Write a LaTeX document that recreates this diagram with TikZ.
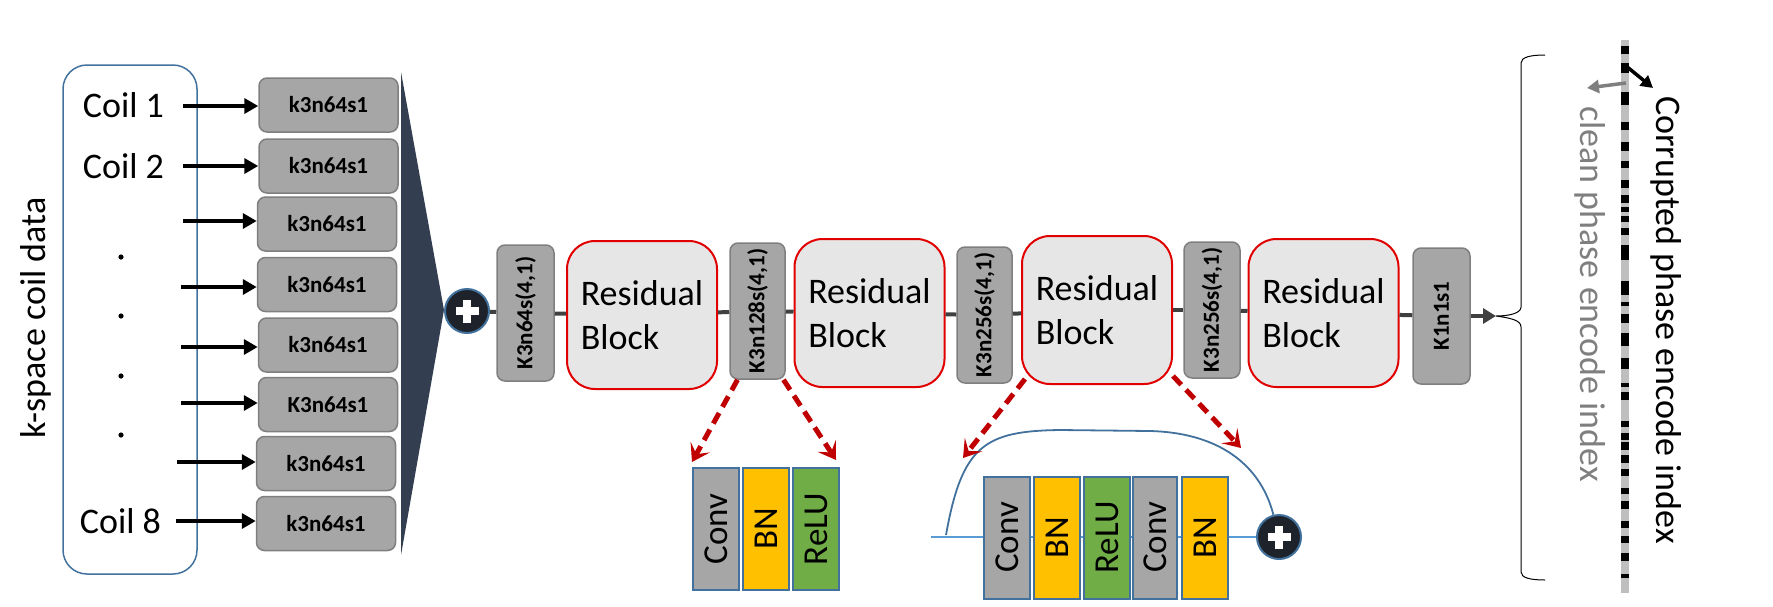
\documentclass[tikz,border=0pt]{standalone}
\usepackage{fontspec}
\setmainfont{Carlito}
\usepackage{graphicx}
\usetikzlibrary{arrows.meta}
\definecolor{coilblue}{HTML}{41719C}
\definecolor{skipblue}{HTML}{5B9BD5}
\definecolor{kgray}{HTML}{A6A6A6}
\definecolor{kborder}{HTML}{7F7F7F}
\definecolor{navy}{HTML}{333F50}
\definecolor{resfill}{HTML}{E7E6E6}
\definecolor{resred}{HTML}{E00000}
\definecolor{darkred}{HTML}{C00000}
\definecolor{bnyellow}{HTML}{FFC000}
\definecolor{relugreen}{HTML}{70AD47}
\definecolor{linegray}{HTML}{404040}
\definecolor{bargray}{HTML}{BFBFBF}
\definecolor{textgray}{HTML}{7F7F7F}
\definecolor{plusfill}{HTML}{1D222B}
\begin{document}
\begin{tikzpicture}[x=1pt,y=-1pt,
  coilbox/.style={draw=coilblue, line width=1.5pt, rounded corners=24pt, minimum width=134pt, minimum height=509pt, inner sep=0pt},
  coiltext/.style={font=\fontsize{36}{40}\selectfont, inner sep=0pt},
  kbox/.style={fill=kgray, draw=kborder, line width=1.5pt, rounded corners=8pt, inner sep=0pt, font=\bfseries\fontsize{23}{26}\selectfont},
  rowbox/.style={kbox, minimum width=139pt, minimum height=54pt},
  vbox/.style={kbox, minimum width=56pt, minimum height=136pt},
  resbox/.style={fill=resfill, draw=resred, line width=2pt, rounded corners=28pt, minimum width=150pt, minimum height=148pt, align=left, inner sep=0pt, font=\fontsize{36}{44}\selectfont},
  feed/.style={line width=4.5pt, -{Triangle[length=14pt,width=15pt]}},
  mainline/.style={draw=linegray, line width=4pt},
  plusc/.style={circle, fill=plusfill, draw=coilblue, line width=2pt, minimum size=44pt, inner sep=0pt},
  plusbar/.style={white, line width=7.5pt},
  layer/.style={draw=coilblue, line width=2pt, minimum width=46pt, minimum height=122pt, inner sep=0pt, font=\fontsize{35}{40}\selectfont},
  redarrow/.style={draw=darkred, line width=5pt, dash pattern=on 12pt off 7pt, -{Stealth[length=17pt,width=22pt,inset=8pt]}},
]
\path[use as bounding box] (0,0) rectangle (1773,606);

% ---- coil data ----
\node[coilbox] (coils) at (130,319.5) {};
\node[coiltext] (coil1) at (123.5,105) {Coil 1};
\node[coiltext] (coil2) at (123.5,166) {Coil 2};
\node[coiltext] (coil8) at (120.5,521) {Coil 8};
\foreach \y in {257,316,376,435} \fill (121,\y) circle (2.6pt);
\node[coiltext, rotate=90] (kspace) at (35.5,318) {k-space coil data};

% ---- per-coil conv boxes ----
\node[rowbox] (r1) at (328.5,105) {k3n64s1};
\node[rowbox] (r2) at (328.5,166) {k3n64s1};
\node[rowbox] (r3) at (327,224) {k3n64s1};
\node[rowbox] (r4) at (327,284.5) {k3n64s1};
\node[rowbox] (r5) at (328,345) {k3n64s1};
\node[rowbox] (r6) at (328,404.5) {K3n64s1};
\node[rowbox] (r7) at (326,463.5) {k3n64s1};
\node[rowbox] (r8) at (326,523.5) {k3n64s1};

\coordinate (a1) at (183,106);
\coordinate (a2) at (183,166);
\coordinate (a3) at (183,221);
\coordinate (a4) at (181,287);
\coordinate (a5) at (181,347);
\coordinate (a6) at (181,403);
\coordinate (a7) at (177,462);
\coordinate (a8) at (176,521);
\foreach \i in {1,...,8} \draw[feed] (a\i) -- (a\i -| r\i.west);

% ---- merge wedge ----
\fill[navy] (401,72) -- (444,310) -- (401,555) -- cycle;

% ---- main pipeline ----
\node[plusc] (p1) at (467,311) {};
\node[vbox, minimum width=57pt] (c0) at (525.5,313) {\rotatebox{90}{K3n64s(4,1)}};
\node[resbox] (res1) at (642,315) {Residual\\Block};
\node[vbox, minimum width=55pt] (c1) at (757.5,311) {\rotatebox{90}{K3n128s(4,1)}};
\node[resbox] (res2) at (869.5,313) {Residual\\Block};
\node[vbox, minimum width=55pt] (c2) at (984.5,315) {\rotatebox{90}{K3n256s(4,1)}};
\node[resbox] (res3) at (1097,310) {Residual\\Block};
\node[vbox] (c3) at (1212,310) {\rotatebox{90}{K3n256s(4,1)}};
\node[resbox] (res4) at (1323.5,313) {Residual\\Block};
\node[vbox, minimum width=57pt] (k1n) at (1441.5,316) {\rotatebox{90}{K1n1s1}};

\draw[mainline] (p1) -- (c0);
\draw[mainline] (c0) -- (res1);
\draw[mainline] (res1) -- (c1);
\draw[mainline] (c1) -- (res2);
\draw[mainline] (res2) -- (c2);
\draw[mainline] (c2) -- (res3);
\draw[mainline] (res3) -- (c3);
\draw[mainline] (c3) -- (res4);
\draw[mainline] (res4) -- (k1n);
\coordinate (btip) at (1496,316);
\draw[mainline, -{Triangle[length=13pt,width=15pt]}] (k1n) -- (btip);

% ---- brace ----
\draw[line width=1pt] (1545,55) .. controls (1531,55) and (1521,57) .. (1521,63) -- (1521,307)
  .. controls (1521,313) and (1510,316) .. (btip)
  .. controls (1510,318) and (1521,320) .. (1521,327) -- (1521,572)
  .. controls (1521,578) and (1531,580) .. (1545,580);

% ---- phase encode bar ----
\fill[bargray] (1621,40) rectangle (1629,593);
\foreach \a/\b in {46/54,63/73,92/105,122/130,142/151,161/168,180/188,195/203,207/212,216/222,228/235,245/260,281/295,302/306,314/323,333/346,358/369,383/387,392/400,421/427,433/440,442/450,455/463,469/476,488/494,501/509,521/528,536/543,553/561,574/578}
  \fill[black] (1621,\a) rectangle (1629,\b);
\coordinate (bk0) at (1626,66);
\coordinate (bk1) at (1653,88);
\coordinate (gr0) at (1626,83);
\coordinate (gr1) at (1587,88);
\draw[line width=3.5pt, -{Triangle[length=12pt,width=13pt]}] (bk0) -- (bk1);
\draw[textgray, line width=3.5pt, -{Triangle[length=12pt,width=13pt]}] (gr0) -- (gr1);
\node[coiltext, rotate=-90] (corr) at (1666,320) {Corrupted phase encode index};
\node[coiltext, rotate=-90, text=textgray] (clean) at (1590,294) {clean phase encode index};

% ---- conv detail ----
\node[layer, fill=kgray] (sconv) at (716,529) {\rotatebox{90}{Conv}};
\node[layer, fill=bnyellow] (sbn) at (766,529) {\rotatebox{90}{BN}};
\node[layer, fill=relugreen] (srelu) at (816,529) {\rotatebox{90}{ReLU}};
\draw[redarrow] ([xshift=-20pt]c1.south) -- ([shift={(0,-5)}]sconv.north west);
\draw[redarrow] ([xshift=26pt]c1.south) -- ([shift={(-4,-7)}]srelu.north east);

% ---- residual detail ----
\node[plusc] (p2) at (1279,537) {};
\coordinate (skl) at (931,537);
\coordinate (skc) at (946,535);
\draw[skipblue, line width=2pt] (skl) -- (p2);
\draw[coilblue, line width=1.8pt] (skc) .. controls (962,445) and (985,431) .. (1060,430) -- (1150,431)
  .. controls (1225,433) and (1262,470) .. (p2);
\node[layer, fill=kgray] (bconv1) at (1007,537.5) {\rotatebox{90}{Conv}};
\node[layer, fill=bnyellow] (bbn1) at (1057,537.5) {\rotatebox{90}{BN}};
\node[layer, fill=relugreen] (brelu) at (1107,537.5) {\rotatebox{90}{ReLU}};
\node[layer, fill=kgray, minimum width=44pt] (bconv2) at (1155,537.5) {\rotatebox{90}{Conv}};
\node[layer, fill=bnyellow] (bbn2) at (1205,537.5) {\rotatebox{90}{BN}};
\coordinate (ra) at (963,458);
\coordinate (rb) at (1241,448);
\draw[redarrow] ([shift={(4,-6)}]res3.south west) -- (ra);
\draw[redarrow] ([shift={(0,-9)}]res3.south east) -- (rb);

\foreach \p in {p1,p2} {
  \draw[plusbar] ([xshift=-11.5pt]\p.center) -- ([xshift=11.5pt]\p.center);
  \draw[plusbar] ([yshift=-11.5pt]\p.center) -- ([yshift=11.5pt]\p.center);
}
\end{tikzpicture}
\end{document}
